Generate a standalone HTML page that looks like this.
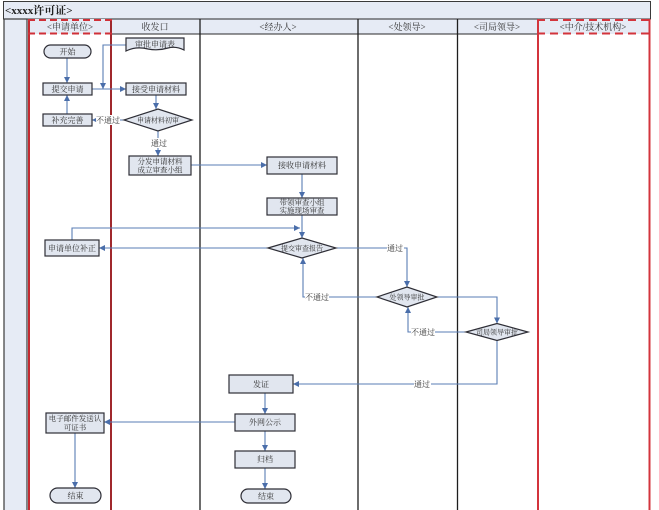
<!DOCTYPE html>
<html>
<head>
<meta charset="utf-8">
<style>
  html,body{margin:0;padding:0;background:#fff;}
  svg{display:block;}
  text{font-family:"Liberation Serif","Noto Serif CJK SC","Noto Sans CJK SC",serif;fill:#222;}
  .n{font-size:8px;text-anchor:middle;fill:#333;}
  .n2{font-size:7.5px;text-anchor:middle;fill:#333;}
  .d{font-size:7px;text-anchor:middle;fill:#333;}
  .h{font-size:9px;text-anchor:middle;fill:#333;}
  .lbl{font-size:8px;text-anchor:middle;fill:#333;}
  .node{fill:#e1e6ef;stroke:#2e2e36;stroke-width:1.2;}
  .c{fill:none;stroke:#5a7db4;stroke-width:1.1;}
</style>
</head>
<body>
<svg width="659" height="510" viewBox="0 0 659 510" xmlns="http://www.w3.org/2000/svg">
  <defs>
    <marker id="a" viewBox="0 0 10 10" refX="10" refY="5" markerWidth="6" markerHeight="6" markerUnits="userSpaceOnUse" orient="auto">
      <path d="M0,0 L10,5 L0,10 z" fill="#4a6eaa"/>
    </marker>
  </defs>

  <!-- title bar -->
  <rect x="3.5" y="1.5" width="647" height="17.5" fill="#e6ebf5" stroke="#3a3a3a" stroke-width="1"/>
  <text x="5" y="14" style="font-size:11px;font-weight:bold;">&lt;xxxx许可证&gt;</text>

  <!-- left blue column -->
  <rect x="4" y="19" width="23" height="492" fill="#e6ebf5" stroke="#3a3a3a" stroke-width="1.2"/>

  <!-- header row cells -->
  <rect x="28" y="19" width="83" height="15" fill="#e6ebf5"/>
  <rect x="111" y="19" width="89" height="15" fill="#e6ebf5" stroke="#2a2a2a" stroke-width="1"/>
  <rect x="200" y="19" width="158" height="15" fill="#e6ebf5" stroke="#2a2a2a" stroke-width="1"/>
  <rect x="358" y="19" width="99.5" height="15" fill="#e6ebf5" stroke="#2a2a2a" stroke-width="1"/>
  <rect x="457.5" y="19" width="80" height="15" fill="#e6ebf5" stroke="#2a2a2a" stroke-width="1"/>
  <rect x="538" y="19" width="111" height="15" fill="#e6ebf5"/>

  <!-- column lines -->
  <line x1="200" y1="19" x2="200" y2="510" stroke="#1e1e1e" stroke-width="1.3"/>
  <line x1="358" y1="19" x2="358" y2="510" stroke="#1e1e1e" stroke-width="1.3"/>
  <line x1="457.5" y1="19" x2="457.5" y2="510" stroke="#1e1e1e" stroke-width="1.3"/>

  <!-- red lanes -->
  <line x1="29" y1="19" x2="29" y2="510" stroke="#c42a30" stroke-width="2"/>
  <line x1="111" y1="19" x2="111" y2="510" stroke="#a0282c" stroke-width="2"/>
  <line x1="28" y1="20" x2="112" y2="20" stroke="#d03038" stroke-width="2" stroke-dasharray="7,4"/>
  <line x1="28" y1="33.5" x2="112" y2="33.5" stroke="#d03038" stroke-width="2" stroke-dasharray="7,4"/>
  <line x1="538" y1="19" x2="538" y2="510" stroke="#d3343c" stroke-width="2"/>
  <line x1="649.5" y1="19" x2="649.5" y2="510" stroke="#d3343c" stroke-width="2"/>
  <line x1="537" y1="20" x2="650" y2="20" stroke="#d3343c" stroke-width="2" stroke-dasharray="8,5"/>
  <line x1="537" y1="33.5" x2="650" y2="33.5" stroke="#d3343c" stroke-width="2" stroke-dasharray="8,5"/>

  <!-- header labels -->
  <text class="h" x="70" y="30">&lt;申请单位&gt;</text>
  <text class="h" x="155" y="30">收发口</text>
  <text class="h" x="278" y="30">&lt;经办人&gt;</text>
  <text class="h" x="407" y="30">&lt;处领导&gt;</text>
  <text class="h" x="497" y="30">&lt;司局领导&gt;</text>
  <text class="h" x="593" y="30">&lt;中介/技术机构&gt;</text>

  <!-- connectors -->
  <path class="c" d="M67,58 V83" marker-end="url(#a)"/>
  <path class="c" d="M67,114 V95" marker-end="url(#a)"/>
  <path class="c" d="M92,89 H126" marker-end="url(#a)"/>
  <path class="c" d="M126,45 H103 V89" marker-end="url(#a)"/>
  <path class="c" d="M156,95 V109" marker-end="url(#a)"/>
  <path class="c" d="M125,120 H92" marker-end="url(#a)"/>
  <path class="c" d="M158,131 V156" marker-end="url(#a)"/>
  <path class="c" d="M191,165 H267" marker-end="url(#a)"/>
  <path class="c" d="M302,174 V198" marker-end="url(#a)"/>
  <path class="c" d="M302,215 V238" marker-end="url(#a)"/>
  <path class="c" d="M72,240 V228 H300" marker-end="url(#a)"/>
  <path class="c" d="M268,248 H99" marker-end="url(#a)"/>
  <path class="c" d="M336,248 H407 V287" marker-end="url(#a)"/>
  <path class="c" d="M378,297 H303 V258" marker-end="url(#a)"/>
  <path class="c" d="M436,297 H497 V323.5" marker-end="url(#a)"/>
  <path class="c" d="M467,332 H408 V307" marker-end="url(#a)"/>
  <path class="c" d="M497,340.5 V384 H293" marker-end="url(#a)"/>
  <path class="c" d="M265,393 V414" marker-end="url(#a)"/>
  <path class="c" d="M265,431 V451" marker-end="url(#a)"/>
  <path class="c" d="M265,468 V489" marker-end="url(#a)"/>
  <path class="c" d="M235,422 H104" marker-end="url(#a)"/>
  <path class="c" d="M75,433 V488" marker-end="url(#a)"/>

  <!-- connector labels -->
  <rect x="96" y="115" width="24" height="10" fill="#fff"/>
  <text class="lbl" x="108" y="123">不通过</text>
  <rect x="151" y="138" width="16" height="10" fill="#fff"/>
  <text class="lbl" x="159" y="146">通过</text>
  <rect x="387" y="243" width="17" height="10" fill="#fff"/>
  <text class="lbl" x="395" y="251">通过</text>
  <rect x="305" y="292" width="24" height="10" fill="#fff"/>
  <text class="lbl" x="317" y="300">不通过</text>
  <rect x="411" y="327" width="24" height="10" fill="#fff"/>
  <text class="lbl" x="423" y="335">不通过</text>
  <rect x="414" y="379" width="17" height="10" fill="#fff"/>
  <text class="lbl" x="422" y="387">通过</text>

  <!-- nodes -->
  <rect class="node" x="44" y="45" width="47" height="13" rx="6.5"/>
  <text class="n" x="67.5" y="54.5">开始</text>

  <rect class="node" x="43" y="83" width="49" height="12"/>
  <text class="n" x="67.5" y="92">提交申请</text>

  <rect class="node" x="43" y="114" width="49" height="12"/>
  <text class="n" x="67.5" y="123">补充完善</text>

  <path class="node" d="M126,38 H184 V50 Q176,46 168,48 Q158,51 148,49 Q136,46 126,51 Z"/>
  <text class="n" x="155" y="47">审批申请表</text>

  <rect class="node" x="126" y="83" width="60" height="12"/>
  <text class="n" x="156" y="92">接受申请材料</text>

  <path class="node" d="M124,120 L158,109 L192,120 L158,131 Z"/>
  <text class="d" x="158" y="122.5">申请材料初审</text>

  <rect class="node" x="129" y="156" width="62" height="19"/>
  <text class="n2" x="160" y="164">分发申请材料</text>
  <text class="n2" x="160" y="172.5">成立审查小组</text>

  <rect class="node" x="267" y="157" width="70" height="17"/>
  <text class="n" x="302" y="168">接收申请材料</text>

  <rect class="node" x="267" y="198" width="70" height="17"/>
  <text class="n2" x="302" y="205">带领审查小组</text>
  <text class="n2" x="302" y="213">实施现场审查</text>

  <path class="node" d="M268,248 L302,238 L336,248 L302,258 Z"/>
  <text class="d" x="302" y="250.5">提交审查报告</text>

  <rect class="node" x="45" y="240" width="54" height="16"/>
  <text class="n" x="72" y="251">申请单位补正</text>

  <path class="node" d="M377,297 L407,287 L437,297 L407,307 Z"/>
  <text class="d" x="407" y="299.5">处领导审批</text>

  <path class="node" d="M466,332 L497,323.5 L528,332 L497,340.5 Z"/>
  <text class="d" x="497" y="334.5">司局领导审批</text>

  <rect class="node" x="229" y="375" width="64" height="18"/>
  <text class="n" x="261" y="387">发证</text>

  <rect class="node" x="235" y="414" width="60" height="17"/>
  <text class="n" x="265" y="425">外网公示</text>

  <rect class="node" x="235" y="451" width="60" height="17"/>
  <text class="n" x="265" y="462">归档</text>

  <rect class="node" x="241" y="489" width="50" height="14" rx="7"/>
  <text class="n" x="266" y="499">结束</text>

  <rect class="node" x="46" y="413" width="58" height="20"/>
  <text class="n2" x="75" y="421">电子邮件发送认</text>
  <text class="n2" x="75" y="430">可证书</text>

  <rect class="node" x="50" y="488" width="51" height="15" rx="7.5"/>
  <text class="n" x="75.5" y="498.5">结束</text>
</svg>
</body>
</html>
